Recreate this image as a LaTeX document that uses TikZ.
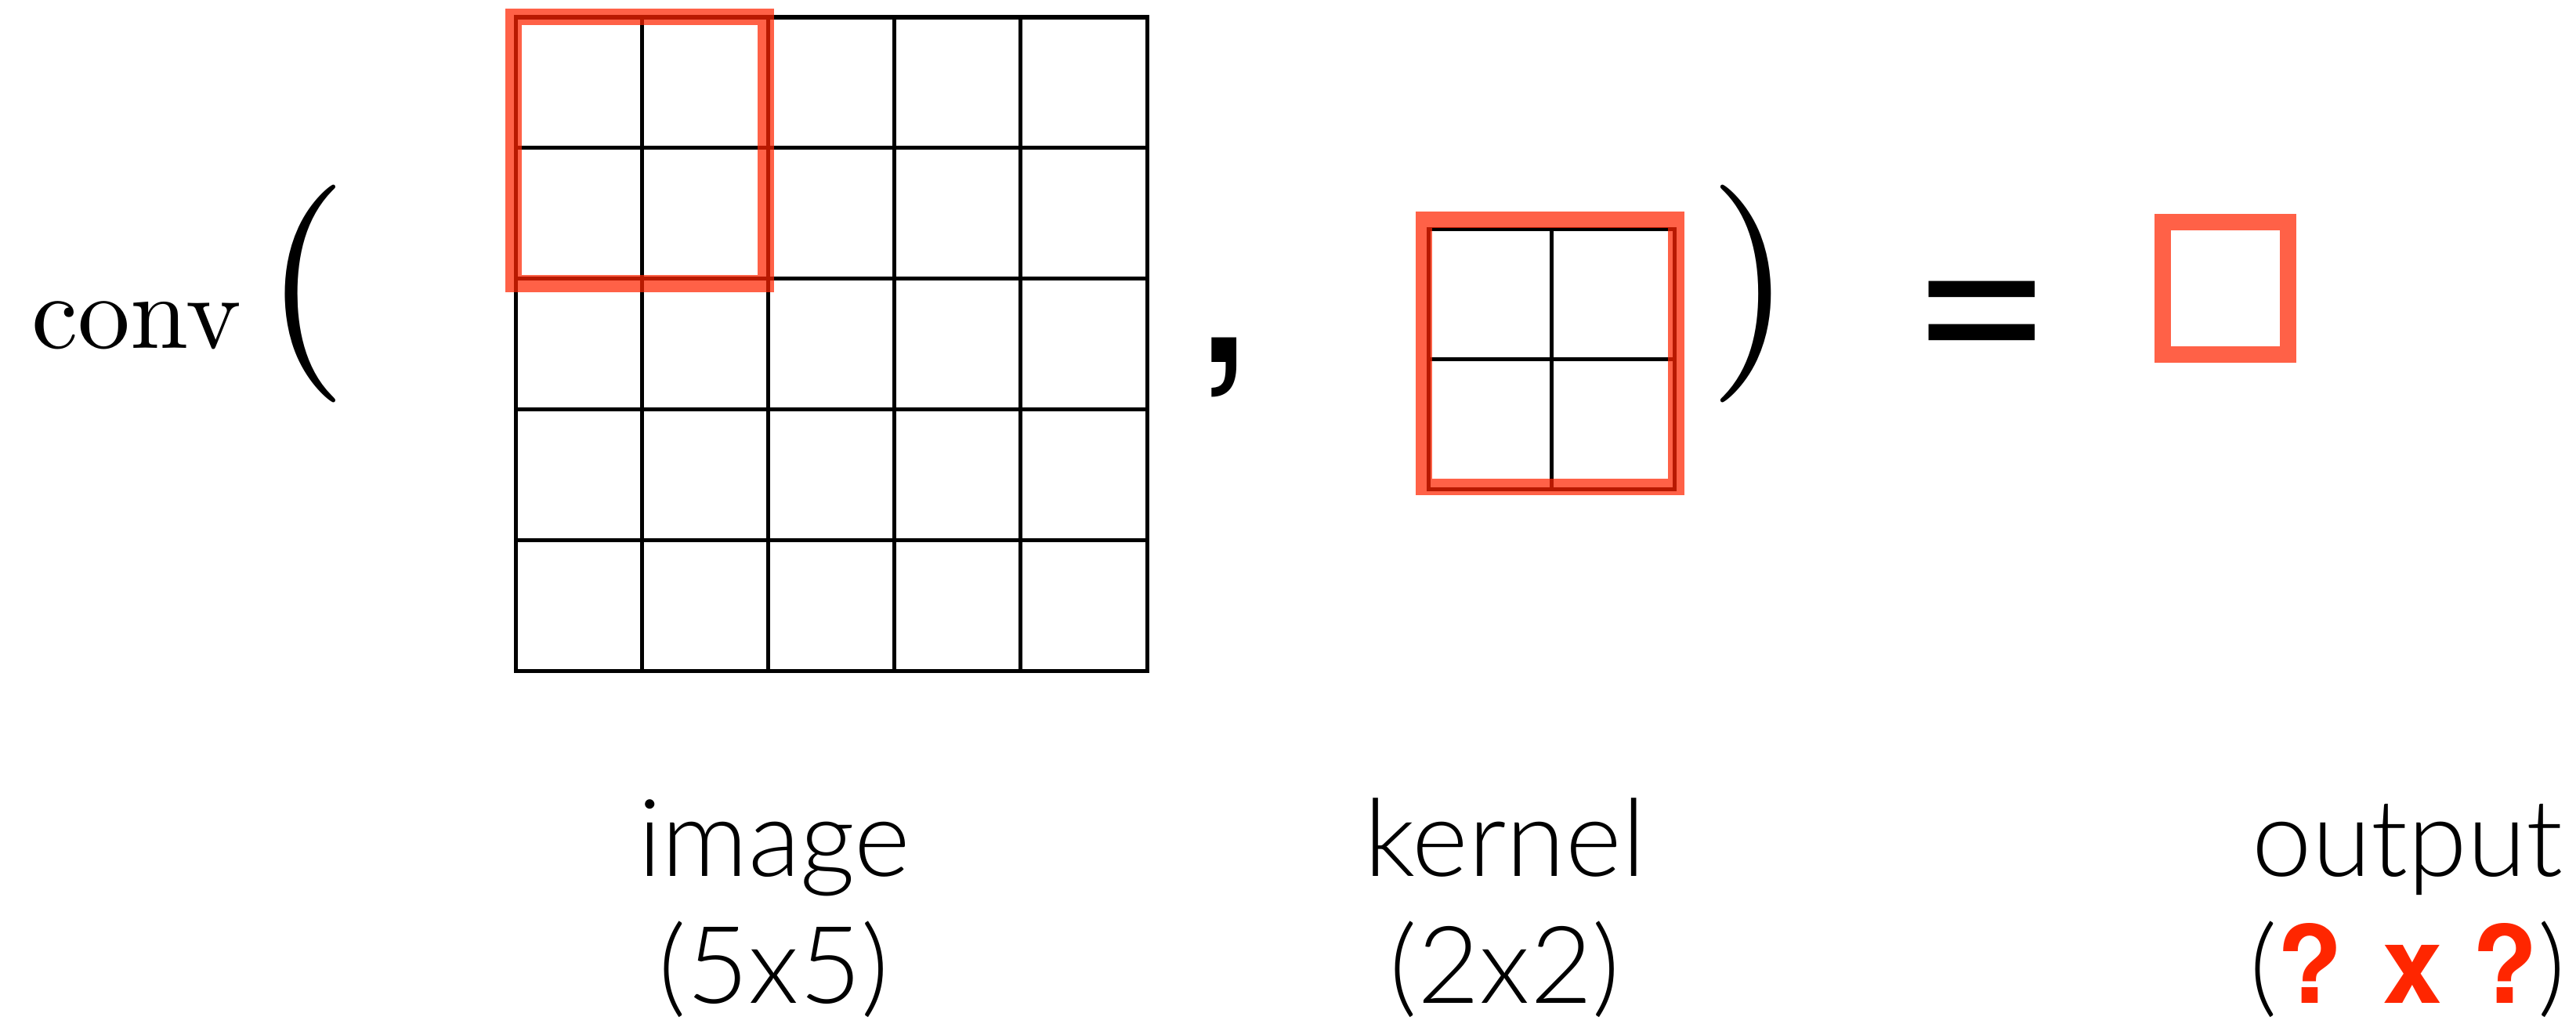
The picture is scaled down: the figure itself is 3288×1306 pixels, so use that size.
\documentclass[tikz,border=0pt]{standalone}
\usepackage{fontspec}
\newfontfamily\cmfont{lmroman10-regular.otf}
\newfontfamily\lblfont{Lato Light}[BoldFont={Lato Bold}]
\newfontfamily\symfont{TeX Gyre Heros}
\usetikzlibrary{positioning}
\definecolor{boxred}{RGB}{255,36,0}
\definecolor{qred}{RGB}{255,38,0}
\tikzset{
    % black grid lines
    cell/.style={line width=0.05cm, line cap=rect},
    % red sliding window
    window/.style={draw=boxred, draw opacity=0.72, line width=0.21cm},
    % captions under the pictures
    lbl/.style={font=\lblfont\fontsize{39}{46}\selectfont, inner sep=0pt, anchor=base},
    % big brackets of conv( , )
    brak/.style={font=\cmfont\fontsize{79}{90}\selectfont, inner sep=0pt},
    % comma and equal sign
    sym/.style={font=\symfont\fontsize{86}{100}\selectfont, inner sep=0pt, anchor=base}
}

\begin{document}
\begin{tikzpicture}[x=0.01cm, y=-0.01cm, node distance=1.62cm]
 \useasboundingbox (0,0) rectangle (3288,1306);
 % image 5x5
 \foreach \i in {0,...,5} {
   \draw[cell] (658+161.2*\i,22) -- (658+161.2*\i,856);
   \draw[cell] (658,22+166.8*\i) -- (1464,22+166.8*\i);
 }
 \draw[window] (655.5,21.5) rectangle (977,362);
 % kernel 2x2
 \foreach \i in {0,1,2} {
   \draw[cell] (1823+157*\i,292) -- (1823+157*\i,624);
   \draw[cell] (1823,292+166*\i) -- (2137,292+166*\i);
 }
 \draw[window] (1817.5,280.5) rectangle (2139,621);
 % output
 \draw[window] (2760,283.5) rectangle (2920.5,452.5);

 % the formula
 \node[anchor=base, inner sep=0pt, font=\cmfont\fontsize{38}{46}\selectfont] (conv) at (174,444) {conv};
 \node[brak] (lpar) at (391,375.5) {(};
 \node[sym] (comma) at (1563,462) {,};
 \node[brak] (rpar) at (2235,375.5) {)};
 \node[sym] (eq) at (2530,472) {=};

 % captions
 \node[lbl] (imglbl) at (988,1118) {image};
 \node[lbl, below=of imglbl.base, anchor=base] (imgsize) {(5x5)};
 \node[lbl] (kerlbl) at (1921,1118) {kernel};
 \node[lbl, below=of kerlbl.base, anchor=base] (kersize) {(2x2)};
 \node[lbl] (outlbl) at (3073,1118) {output};
 \node[lbl, below=of outlbl.base, anchor=base] (outsize) {(\textcolor{qred}{\symfont\bfseries ? x ?})};
\end{tikzpicture}
\end{document}
